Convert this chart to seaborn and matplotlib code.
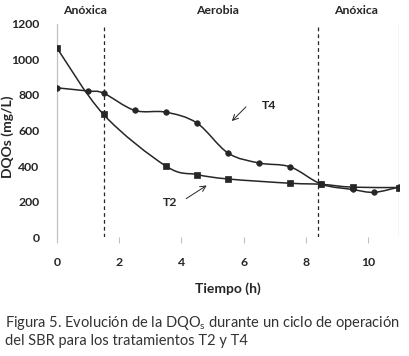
import numpy as np
import pandas as pd
import matplotlib
matplotlib.use("Agg")
import matplotlib.pyplot as plt
from matplotlib.path import Path
from matplotlib.patches import PathPatch
import seaborn as sns

# T2 (squares) and T4 (circles), time in hours, DQOs in mg/L
t2_time = [0, 1.5, 3.5, 4.5, 5.5, 7.5, 8.5, 9.5, 11]
t2_dqo = [1065, 690, 400, 352, 327, 303, 297, 281, 279]
t4_time = [0, 1, 1.5, 2.5, 3.5, 4.5, 5.5, 6.5, 7.5, 8.5, 9.5, 10.2, 11]
t4_dqo = [840, 822, 810, 713, 703, 642, 473, 417, 395, 298, 268, 252, 282]

phase_limits = [1.5, 8.4]
phase_names = ["Anóxica", "Aerobia", "Anóxica"]
phase_centers = [0.9, 5.15, 9.6]

x_ticks = [0, 2, 4, 6, 8, 10]
y_ticks = [0, 200, 400, 600, 800, 1000, 1200]

df = pd.concat([
    pd.DataFrame({"Tiempo": t2_time, "DQO": t2_dqo, "Tratamiento": "T2"}),
    pd.DataFrame({"Tiempo": t4_time, "DQO": t4_dqo, "Tratamiento": "T4"}),
], ignore_index=True)

sns.set_style("white")
plt.rcParams["font.family"] = ["Lato", "DejaVu Sans"]

ink = "#262626"
fig = plt.figure(figsize=(4.09, 3.56), dpi=100)
ax = fig.add_axes([0.139, 0.334, 0.837, 0.599])


def smooth_path(xs, ys):
    # Excel-style smoothed line: cubic bezier segments through the points
    pts = np.column_stack([xs, ys]).astype(float)
    verts = [pts[0]]
    codes = [Path.MOVETO]
    n = len(pts)
    for i in range(n - 1):
        p0 = pts[i - 1] if i > 0 else pts[i]
        p1 = pts[i]
        p2 = pts[i + 1]
        p3 = pts[i + 2] if i + 2 < n else pts[i + 1]
        c1 = p1 + (p2 - p0) / 6.0
        c2 = p2 - (p3 - p1) / 6.0
        verts += [c1, c2, p2]
        codes += [Path.CURVE4] * 3
    return Path(verts, codes)


for name, marker in [("T2", "s"), ("T4", "o")]:
    sub = df[df["Tratamiento"] == name]
    ax.add_patch(PathPatch(smooth_path(sub["Tiempo"], sub["DQO"]),
                           facecolor="none", edgecolor=ink, lw=1.1, zorder=2))
    sns.scatterplot(data=sub, x="Tiempo", y="DQO", marker=marker, s=16,
                    color=ink, edgecolor=ink, linewidth=0.5, ax=ax, zorder=3,
                    legend=False)

for xv in phase_limits:
    ax.axvline(xv, color=ink, lw=0.9, ls=(0, (3, 2.5)), zorder=1)
ax.axvline(11, color="#b0b0b0", lw=0.9, zorder=1)

for name, xc in zip(phase_names, phase_centers):
    ax.text(xc, 1.035, name, transform=ax.get_xaxis_transform(), ha="center",
            va="bottom", fontsize=8.8, fontweight="bold", color=ink)

ax.annotate("", xy=(5.56, 642), xytext=(6.14, 744),
            arrowprops=dict(arrowstyle="->", color=ink, lw=0.7))
ax.text(6.6, 738, "T4", fontsize=8.8, fontweight="bold", color=ink,
        ha="left", va="center")
ax.annotate("", xy=(4.89, 299), xytext=(4.08, 208),
            arrowprops=dict(arrowstyle="->", color=ink, lw=0.7))
ax.text(3.63, 197, "T2", fontsize=8.8, fontweight="bold", color=ink,
        ha="center", va="center")

ax.set_xlim(0, 11)
ax.set_ylim(0, 1200)
ax.set_xticks(x_ticks)
ax.set_yticks(y_ticks)
for s in ["top", "right", "bottom"]:
    ax.spines[s].set_visible(False)
ax.spines["left"].set_color("#c0c0c0")
ax.spines["left"].set_linewidth(0.9)
ax.tick_params(axis="x", bottom=True, length=4, width=0.8, color="#c0c0c0",
               pad=10, labelsize=8.8, labelcolor=ink)
ax.tick_params(axis="y", left=False, pad=9, labelsize=8.8, labelcolor=ink)
for lab in ax.get_xticklabels() + ax.get_yticklabels():
    lab.set_fontweight("bold")

ax.set_xlabel("Tiempo (h)", fontsize=10, fontweight="bold", color=ink)
ax.set_ylabel("DQOs (mg/L)", fontsize=10, fontweight="bold", color=ink)
ax.xaxis.set_label_coords(0.5, -0.21)
ax.yaxis.set_label_coords(-0.125, 0.47)

fig.text(0.012, 0.071, "Figura 5. Evolución de la DQO$_\\mathregular{s}$ durante un ciclo de operación\n"
         "del SBR para los tratamientos T2 y T4", ha="left", va="center",
         fontsize=10.5, color="#333333", linespacing=1.15)

fig.savefig("out.png", dpi=100)
